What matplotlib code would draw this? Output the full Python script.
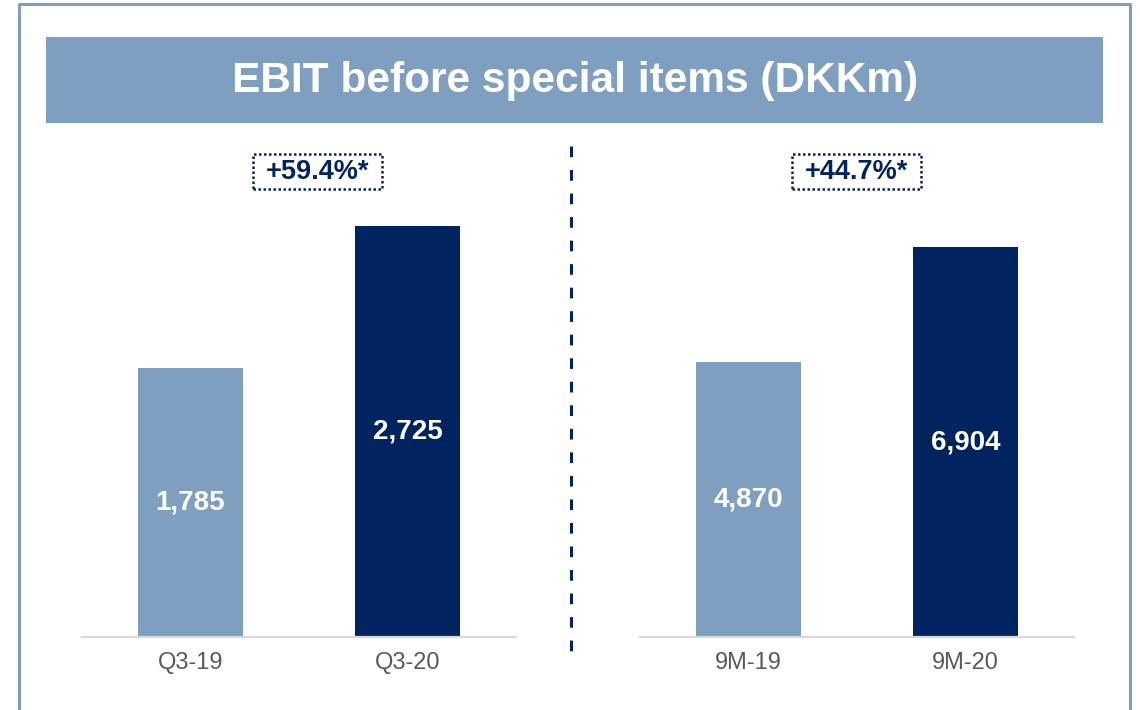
import matplotlib
matplotlib.use("Agg")
import matplotlib.pyplot as plt
from matplotlib.patches import Rectangle
from matplotlib.lines import Line2D

plt.rcParams['font.family'] = ['Liberation Sans', 'DejaVu Sans']

title = "EBIT before special items (DKKm)"
left_cats = ["Q3-19", "Q3-20"]
left_vals = [1785, 2725]
left_growth = "+59.4%*"
right_cats = ["9M-19", "9M-20"]
right_vals = [4870, 6904]
right_growth = "+44.7%*"

light = "#7F9FC0"
navy = "#00245F"
W, H = 1140, 710

fig = plt.figure(figsize=(11.4, 7.1), dpi=100)

def fx(px):
    return px / W

def fy(py):
    return 1 - py / H

# outer frame (open at bottom)
fig.add_artist(Line2D([fx(19), fx(19), fx(1130), fx(1130)],
                      [0, fy(4), fy(4), 0], color=light, lw=2.2,
                      transform=fig.transFigure))

# title banner
fig.add_artist(Rectangle((fx(46), fy(123)), fx(1103 - 46), (123 - 37) / H,
                         facecolor=light, edgecolor="none",
                         transform=fig.transFigure))
fig.text(fx(575), fy(81), title, color="white", fontsize=30.5,
         fontweight="bold", ha="center", va="center")

# dashed divider
fig.add_artist(Line2D([fx(571), fx(571)], [fy(146), fy(655)], color=navy,
                      lw=2.2, dashes=(3.5, 4.2), transform=fig.transFigure))


def panel(x0, cats, vals, ymax, growth, gx):
    ax = fig.add_axes([fx(x0), fy(637), fx(434), 492 / H])
    xs = range(len(cats))
    bars = ax.bar(xs, vals, width=0.48, color=[light, navy])
    ax.set_xlim(-0.5, 1.5)
    ax.set_ylim(0, ymax)
    for b, v in zip(bars, vals):
        ax.text(b.get_x() + b.get_width() / 2, v / 2, f"{v:,}", color="white",
                fontsize=20, fontweight="bold", ha="center", va="center")
    ax.set_xticks(list(xs))
    ax.set_xticklabels(cats, fontsize=17, color="#595959")
    ax.tick_params(axis="x", length=0, pad=11)
    ax.set_yticks([])
    for s in ["top", "left", "right"]:
        ax.spines[s].set_visible(False)
    ax.spines["bottom"].set_color("#D9D9D9")
    ax.spines["bottom"].set_linewidth(1.6)
    # growth box with dotted border
    fig.add_artist(Rectangle((fx(gx - 64.5), fy(189)), fx(129), 35 / H,
                             facecolor="white", edgecolor=navy, lw=1.8,
                             linestyle=(0, (1, 1)),
                             transform=fig.transFigure))
    fig.text(fx(gx), fy(172), growth, color=navy, fontsize=19.5,
             fontweight="bold", ha="center", va="center")
    return ax


panel(82, left_cats, left_vals, 3265, left_growth, 317.5)
panel(640, right_cats, right_vals, 8711, right_growth, 856.5)

fig.savefig("out.png", dpi=100)
